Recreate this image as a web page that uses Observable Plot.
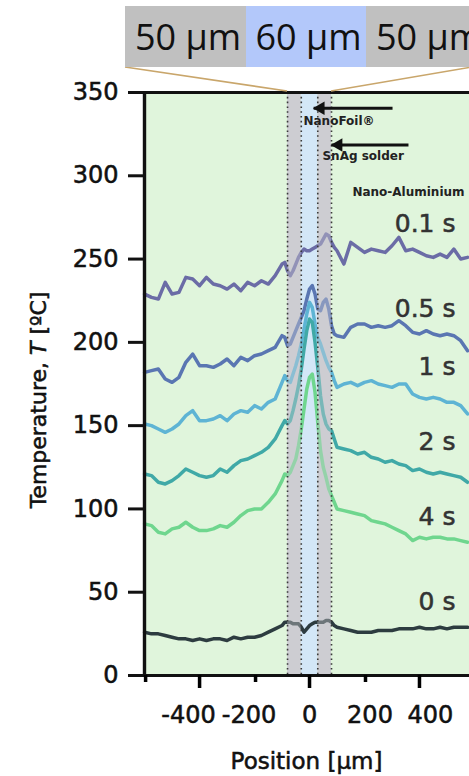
<!DOCTYPE html>
<html><head><meta charset="utf-8">
<script src="https://cdn.jsdelivr.net/npm/d3@7"></script>
<script src="https://cdn.jsdelivr.net/npm/@observablehq/plot@0.6"></script>
<style>
html,body{margin:0;padding:0;background:#fff;overflow:hidden;}
#wrap{position:relative;width:469px;height:776px;overflow:hidden;background:#fff;}
#chart svg{overflow:visible;display:block;}
#header{position:absolute;top:6px;left:125px;display:flex;height:61px;font-family:"Open Sans",sans-serif;font-size:36px;color:#111;}
#header div{box-sizing:border-box;width:120.5px;height:61px;line-height:61px;padding-left:10px;white-space:nowrap;flex:none;}
</style></head><body><div id="wrap"><div id="chart"></div><div id="header"></div></div>
<script>
// ---- data ----
const positions = [-600,-575,-550,-525,-500,-475,-450,-425,-400,-375,-350,-325,-300,-275,-250,-225,-200,-175,-150,-125,-100,
  -90,-80,-70,-60,-50,-40,-30,-20,-10,0,10,20,30,40,50,60,70,80,90,
  100,125,150,175,200,225,250,275,300,325,350,375,400,425,450,475,500,525,550,575];
const temp01 = [229,227,226,236,229,230,239,238,234,239,235,234,232,235,231,236,234,237,235,240,247,
  248,243,240,243,247,251,254,256,255,255,256,257,258,259,262,265,264,260,257,
  255,247,260,257,254,256,255,254,258,263,255,256,254,252,251,253,251,256,250,251];
const temp05 = [182,183,184,178,176,179,188,193,186,186,185,187,190,186,191,189,192,193,195,197,204,
  203,198,199,203,207,211,215,219,226,232,234,229,220,219,224,226,220,210,205,
  204,203,209,211,211,209,210,209,210,213,210,206,205,207,205,204,205,204,201,195];
const temp1 = [151,150,148,146,148,151,156,159,153,153,154,156,153,157,159,158,162,160,164,166,176,
  180,177,176,181,186,192,199,208,217,224,221,211,203,199,194,189,185,182,177,
  173,175,176,174,176,177,175,174,173,175,175,169,167,166,167,166,164,164,162,157];
const temp2 = [121,120,116,115,117,120,124,122,120,119,120,124,122,126,129,130,132,134,137,142,150,
  153,151,153,159,166,174,184,196,207,214,212,200,185,168,157,151,148,147,142,
  137,136,135,133,134,131,130,128,129,127,126,123,124,122,121,122,121,120,119,116];
const temp4 = [91,90,86,85,88,89,92,89,87,87,88,90,89,92,96,99,100,100,104,109,117,
  121,120,122,126,130,138,148,160,172,179,181,170,152,135,125,119,112,108,104,
  100,99,98,97,96,93,92,91,89,87,85,81,83,82,83,83,82,82,81,80];
const temp0 = [26,25,25,24,23,22,22,21,22,21,22,22,21,23,22,23,23,24,26,28,30,
  32,32,32,31,31,31,29,26,28,30,31,32,32,32,32,33,33,32,30,
  29,28,27,26,26,26,27,27,27,28,28,28,29,28,28,29,28,29,29,29];
const seriesNames = ["0.1 s","0.5 s","1 s","2 s","4 s","0 s"];
const seriesTemps = [temp01,temp05,temp1,temp2,temp4,temp0];
const labelTemps = [271,220,185,140,95,44];          // label anchors (°C)
const bandEdges = [-80,-30,30,80];                    // µm
const layerNames = ["50 µm","60 µm","50 µm"];
const yTicks = [0,50,100,150,200,250,300,350];
const xTickLabels = [-400,-200,0,200,400];
const xMajorTicks = [-400,0,400];
const xMinorTicks = [-600,-200,200];
const annotations = ["NanoFoil®","SnAg solder","Nano-Aluminium"];
const annotationX = [-22,47,156];
const annotationT = [333,311.5,290];
const arrowFrom = [302,360];
const arrowTo = [15,80];
const arrowT = [340.5,318.5];

// ---- styles ----
const seriesColors = ["#6b6ca6","#5a76b2","#5eb4d4","#40a9a7","#6fd68e","#2d3c40"];
const xDomain = [-604,582];
const yDomain = [0,350];
const labelX = 531;
const labelSpread = 1.1;
const W = 469, H = 776, mT = 92, mB = 101;
const pxPerDeg = (H - mT - mB) / (yDomain[1] - yDomain[0]);
const majorLen = 13 / pxPerDeg, minorLen = 7 / pxPerDeg;   // tick lengths in scale units

const rows = seriesNames.flatMap((name,i)=>positions.map((p,j)=>({pos:p,T:seriesTemps[i][j],series:name})));
const bands = [
  {x1:bandEdges[0],x2:bandEdges[1],kind:"solder"},
  {x1:bandEdges[1],x2:bandEdges[2],kind:"foil"},
  {x1:bandEdges[2],x2:bandEdges[3],kind:"solder"}];
const solder = bands.filter(d=>d.kind==="solder");
const foil = bands.filter(d=>d.kind==="foil");
const arrows = arrowFrom.map((f,i)=>({x1:f,x2:arrowTo[i],y:arrowT[i]}));
const notes = annotations.map((t,i)=>({text:t,x:annotationX[i],y:annotationT[i]}));

const plot = Plot.plot({
  width:W, height:H,
  marginLeft:143, marginRight:0, marginTop:mT, marginBottom:mB,
  style:{fontFamily:"DejaVu Sans", background:"transparent", color:"#111", overflow:"visible"},
  x:{domain:xDomain, axis:null},
  y:{domain:yDomain, axis:null},
  color:{domain:seriesNames, range:seriesColors},
  marks:[
    Plot.frame({fill:"#e0f5dc", stroke:null}),
    Plot.rect(solder, {x1:"x1", x2:"x2", fill:"#cdcdd2"}),
    Plot.rect(foil, {x1:"x1", x2:"x2", fill:"#d3e7f7"}),
    Plot.line(rows, {x:"pos", y:"T", z:"series", stroke:"series", strokeWidth:3.5, strokeLinejoin:"round", strokeLinecap:"round"}),
    Plot.rect(solder, {x1:"x1", x2:"x2", fill:"#cdcdd2", fillOpacity:0.4}),
    Plot.ruleX(bandEdges, {stroke:"#3a3a3a", strokeWidth:1.6, strokeDasharray:"1.6,3.2"}),
    Plot.ruleY([0], {stroke:"#111", strokeWidth:3}),
    Plot.ruleY([350], {stroke:"#111", strokeWidth:3}),
    Plot.ruleX([xDomain[0]], {stroke:"#111", strokeWidth:3.4, dx:1}),
    Plot.axisY({ticks:yTicks, tickSize:15, tickPadding:10, fontSize:24, strokeWidth:3, stroke:"#111", fill:"#111", tickFormat:d=>String(d), label:null}),
    Plot.text(xTickLabels, {x:d=>d*labelSpread, frameAnchor:"bottom", dy:30, lineAnchor:"top", text:d=>String(d), fontSize:24, fill:"#111"}),
    Plot.text(["Position [µm]"], {frameAnchor:"bottom", dy:77, lineAnchor:"top", fontSize:23, fill:"#111"}),
    Plot.text(seriesNames, {x:()=>labelX, y:(d,i)=>labelTemps[i], text:d=>d, textAnchor:"end", fontSize:25, fill:"#333"}),
    Plot.link(arrows, {x1:"x1", x2:"x2", y1:"y", y2:"y", stroke:"#111", strokeWidth:3}),
    Plot.dot(arrows, {x:"x2", y:"y", symbol:"triangle", r:5, rotate:-90, dx:7, fill:"#111", stroke:null}),
    Plot.text(notes, {x:"x", y:"y", text:"text", textAnchor:"start", fontSize:12, fontWeight:"bold", fill:"#222"}),
    Plot.ruleX(xMajorTicks, {y1:yDomain[0], y2:yDomain[0]-majorLen, stroke:"#000", strokeWidth:3.5}),
    Plot.ruleX(xMinorTicks, {y1:yDomain[0], y2:yDomain[0]-minorLen, stroke:"#000", strokeWidth:3.5, dx:1})
  ]
});
document.getElementById("chart").appendChild(plot);

const svg = d3.select(plot);
const xs = plot.scale("x");
const ys = plot.scale("y");

const yl = svg.append("text")
  .attr("transform","translate(46,400) rotate(-90)")
  .attr("text-anchor","middle").attr("font-size",22).attr("fill","#111")
  .style("font-family","DejaVu Sans");
yl.append("tspan").text("Temperature, ");
yl.append("tspan").attr("font-style","italic").text("T");
yl.append("tspan").text(" [ºC]");

// slightly heavier glyphs, like the reference
svg.selectAll("text").each(function(){
  const cs = getComputedStyle(this);
  if (+cs.fontWeight >= 600) return;
  d3.select(this).style("stroke", cs.fill).style("stroke-width","0.55px").style("paint-order","stroke");
});

const topY = ys.apply(350) - 1;
svg.append("path").attr("d",`M125,67L${xs.apply(bandEdges[0])},${topY}`).attr("stroke","#c9a66b").attr("stroke-width",1.6).attr("fill","none");
svg.append("path").attr("d",`M472,67L${xs.apply(bandEdges[3])},${topY}`).attr("stroke","#c9a66b").attr("stroke-width",1.6).attr("fill","none");

const header = d3.select("#header");
const boxColors = ["#c0c0c0","#b3c8fa","#c0c0c0"];
header.selectAll("div").data(layerNames).join("div")
  .style("background",(d,i)=>boxColors[i]).text(d=>d);
</script></body></html>
